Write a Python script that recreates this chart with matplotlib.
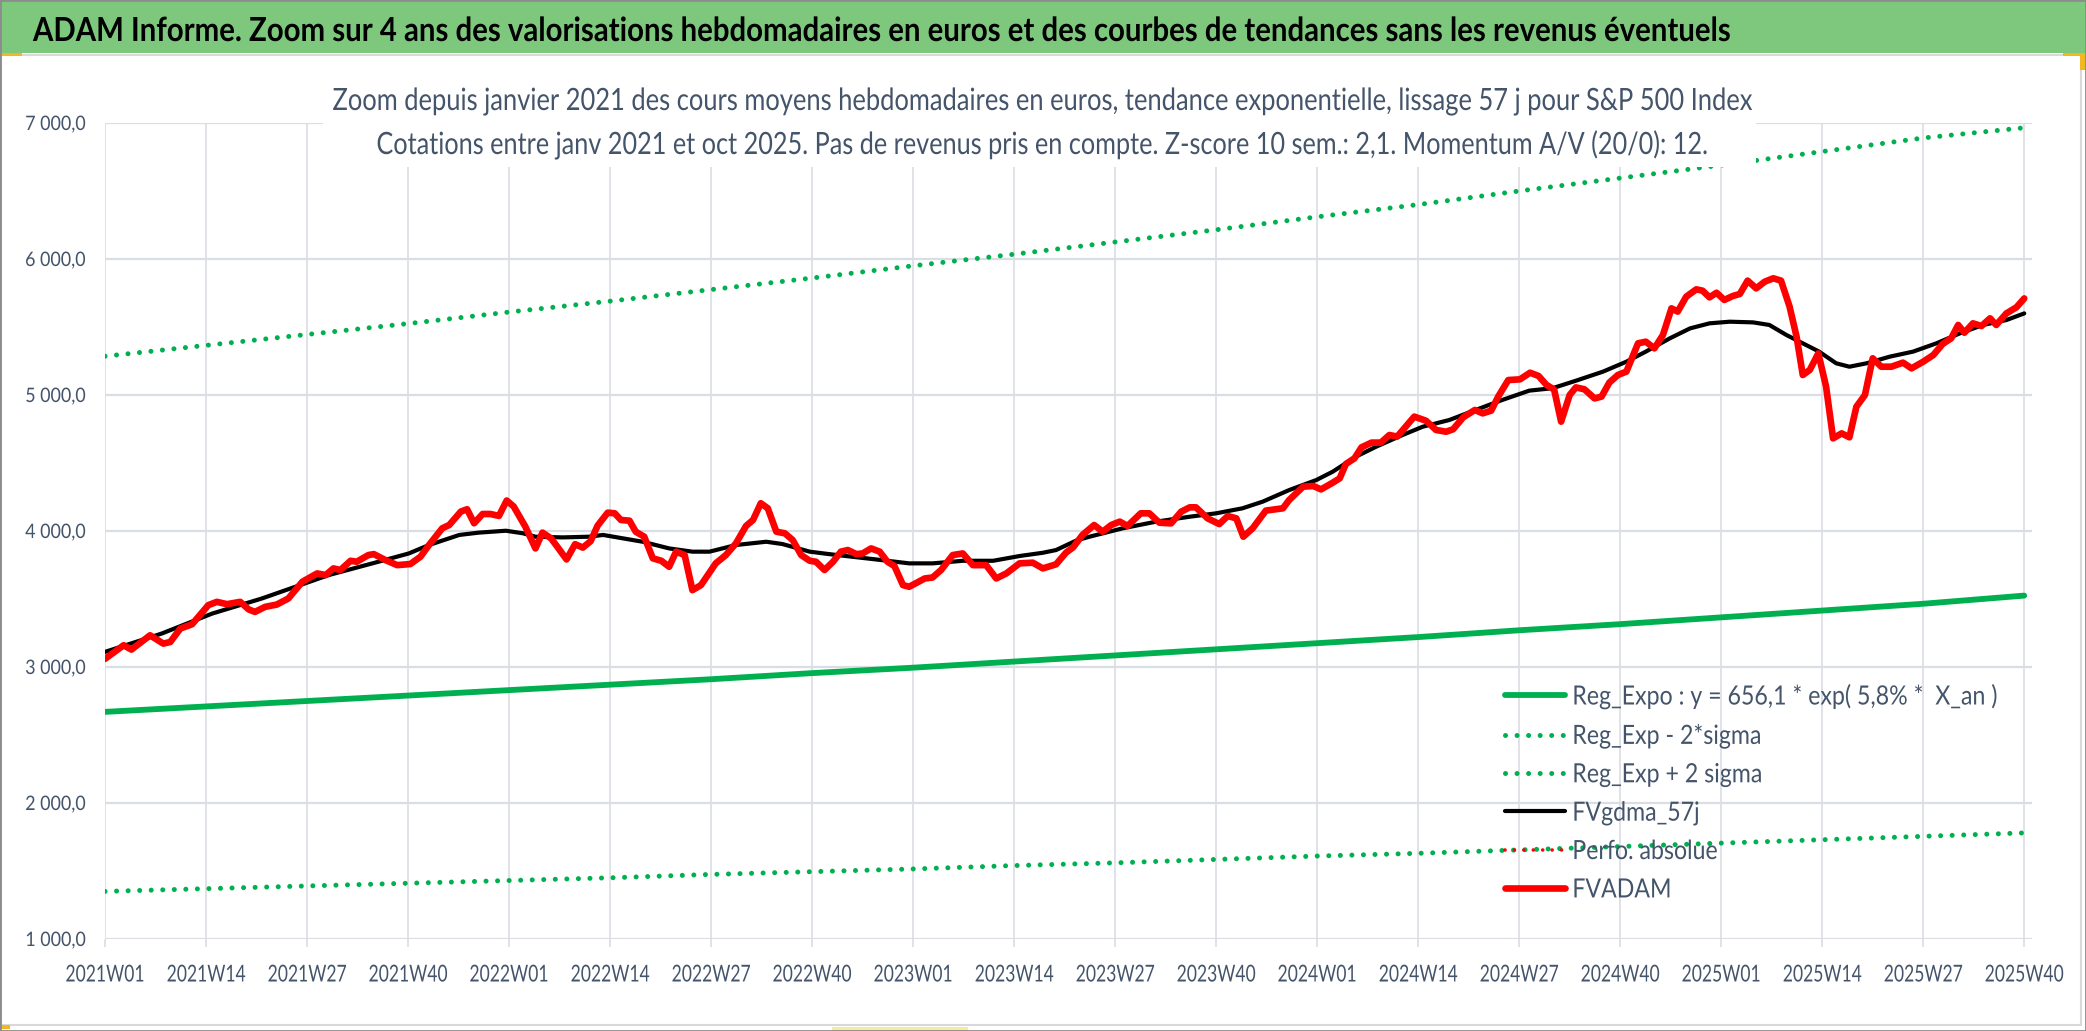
import matplotlib
matplotlib.use('Agg')
import matplotlib.pyplot as plt
from matplotlib.font_manager import FontProperties
from matplotlib.patches import Rectangle
from matplotlib.patheffects import AbstractPathEffect
from matplotlib.textpath import TextPath
from matplotlib.transforms import Affine2D

# ---------------- data ----------------
x_labels = ['2021W01', '2021W14', '2021W27', '2021W40', '2022W01', '2022W14', '2022W27',
            '2022W40', '2023W01', '2023W14', '2023W27', '2023W40', '2024W01', '2024W14',
            '2024W27', '2024W40', '2025W01', '2025W14', '2025W27', '2025W40']
x_label_week = [0, 13, 26, 39, 52, 65, 78, 91, 104, 117, 130, 143, 156, 169, 182, 195,
                208, 221, 234, 247]
y_ticks = [1000, 2000, 3000, 4000, 5000, 6000, 7000]
y_labels = ['1 000,0', '2 000,0', '3 000,0', '4 000,0', '5 000,0', '6 000,0', '7 000,0']

series_names = ['Reg_Expo : y = 656,1 * exp( 5,8% *  X_an )', 'Reg_Exp - 2*sigma',
                'Reg_Exp + 2 sigma', 'FVgdma_57j', 'Perfo. absolue', 'FVADAM']

# trend curves read at each labelled week
trend_week = x_label_week
reg_expo = [2670, 2710, 2750, 2790, 2830, 2870, 2910, 2955, 2995, 3040, 3085, 3130, 3175,
            3220, 3270, 3315, 3365, 3415, 3465, 3525]
reg_minus = [1350, 1370, 1390, 1410, 1430, 1450, 1475, 1495, 1515, 1540, 1560, 1585, 1610,
             1630, 1655, 1680, 1705, 1730, 1755, 1780]
reg_plus = [5285, 5365, 5445, 5525, 5610, 5690, 5775, 5860, 5950, 6035, 6125, 6215, 6310,
            6400, 6500, 6595, 6690, 6790, 6890, 6965]

# FVgdma_57j (smoothed)
black_week = [0, 7.3, 13.8, 20.2, 24.5, 28.8, 35.2, 39.1, 41.7, 45.6, 48.1, 51.6, 53.8, 55.4,
              58.9, 62.3, 64.1, 69.2, 72.6, 75.6, 77.8, 81.2, 85.1, 87.2, 90.7, 93.2, 99.2,
              103.5, 106.5, 110.4, 114.3, 117.7, 120.7, 122.4, 125.0, 126.7, 131.0, 135.3,
              139.6, 143.0, 146.4, 149.0, 152.4, 155.9, 158.0, 161.0, 163.6, 167.0, 169.6,
              173.0, 176.4, 179.8, 183.3, 186.3, 189.3, 192.8, 195.8, 198.3, 201.4, 204.0,
              206.5, 209.1, 212.1, 214.2, 216.4, 218.5, 220.6, 222.8, 224.5, 226.7, 229.7,
              232.7, 235.7, 238.7, 241.7, 244.7, 247.0]
black_value = [3111, 3246, 3393, 3504, 3590, 3676, 3774, 3835, 3897, 3971, 3988, 4002, 3983,
               3958, 3953, 3958, 3971, 3921, 3872, 3848, 3848, 3897, 3921, 3904, 3848, 3830,
               3791, 3762, 3762, 3781, 3781, 3816, 3840, 3860, 3930, 3958, 4020, 4069, 4105,
               4130, 4167, 4216, 4301, 4375, 4436, 4547, 4620, 4706, 4767, 4816, 4890, 4963,
               5032, 5050, 5105, 5172, 5245, 5319, 5417, 5490, 5527, 5539, 5534, 5515, 5441,
               5380, 5319, 5233, 5208, 5233, 5282, 5319, 5380, 5453, 5515, 5551, 5600]

# FVADAM (weekly valuation)
red_week = [0.0, 2.4, 3.4, 5.8, 7.5, 8.4, 9.7, 11.2, 13.3, 14.4, 15.7, 17.4, 18.5, 19.3, 20.6,
            22.1, 23.6, 25.4, 27.3, 28.4, 29.4, 30.3, 31.6, 32.4, 33.9, 34.6, 36.1, 37.6,
            39.3, 40.6, 41.7, 43.4, 44.3, 45.8, 46.6, 47.5, 48.6, 49.6, 50.7, 51.7, 52.6,
            54.1, 55.4, 56.3, 57.4, 58.2, 59.4, 60.5, 61.5, 62.5, 63.4, 64.7, 65.6, 66.4,
            67.5, 68.3, 69.4, 70.5, 71.6, 72.6, 73.5, 74.6, 75.6, 76.7, 78.6, 79.9, 81.2,
            82.5, 83.4, 84.4, 85.3, 86.4, 87.5, 88.5, 89.6, 90.7, 91.5, 92.6, 93.7, 94.7,
            95.6, 96.7, 97.5, 98.6, 99.7, 100.7, 101.6, 102.7, 103.5, 105.5, 106.5, 107.6,
            109.1, 110.4, 111.7, 113.4, 114.7, 116.0, 117.7, 119.4, 120.7, 122.4, 123.7,
            124.6, 125.8, 127.3, 128.4, 129.5, 130.6, 131.6, 133.3, 134.4, 135.7, 137.2,
            138.5, 139.6, 140.4, 141.9, 143.4, 144.5, 145.6, 146.5, 147.7, 149.4, 151.6,
            152.4, 154.2, 155.5, 156.5, 158.0, 158.9, 159.7, 160.8, 161.7, 163.0, 164.2,
            165.3, 166.3, 168.5, 170.0, 171.3, 172.6, 173.5, 174.8, 176.3, 177.3, 178.4,
            179.3, 180.6, 182.1, 183.4, 184.5, 185.5, 186.5, 187.4, 188.5, 189.3, 190.4,
            191.7, 192.6, 193.6, 194.7, 195.8, 197.3, 198.3, 199.4, 200.5, 201.6, 202.4,
            203.5, 204.8, 205.6, 206.5, 207.4, 208.4, 209.5, 210.4, 211.4, 212.5, 213.6,
            214.7, 215.7, 216.8, 217.7, 218.5, 219.4, 220.5, 221.5, 222.4, 223.5, 224.5,
            225.4, 226.5, 227.5, 228.6, 229.9, 231.4, 232.5, 234.0, 235.3, 236.5, 237.6,
            238.5, 239.3, 240.4, 241.5, 242.6, 243.4, 244.7, 246.0, 247.0]
red_value = [3060, 3160, 3128, 3233, 3172, 3184, 3283, 3314, 3455, 3479, 3462, 3479, 3423,
             3405, 3442, 3459, 3504, 3627, 3688, 3676, 3725, 3713, 3781, 3774, 3823, 3830,
             3786, 3749, 3757, 3811, 3897, 4020, 4044, 4143, 4160, 4057, 4125, 4125, 4111,
             4224, 4180, 4032, 3872, 3988, 3946, 3885, 3791, 3903, 3878, 3925, 4040, 4135,
             4130, 4081, 4076, 3995, 3958, 3799, 3781, 3737, 3848, 3823, 3565, 3602, 3762,
             3823, 3909, 4037, 4081, 4204, 4167, 3995, 3983, 3934, 3823, 3781, 3774, 3713,
             3774, 3848, 3860, 3830, 3835, 3872, 3848, 3774, 3742, 3602, 3590, 3651, 3658,
             3713, 3823, 3835, 3749, 3749, 3651, 3688, 3762, 3767, 3725, 3755, 3842, 3880,
             3971, 4044, 3995, 4044, 4069, 4037, 4130, 4130, 4061, 4056, 4142, 4174, 4174,
             4093, 4051, 4110, 4093, 3958, 4020, 4150, 4167, 4228, 4326, 4331, 4306, 4355,
             4387, 4493, 4534, 4615, 4650, 4650, 4706, 4694, 4841, 4811, 4743, 4730, 4748,
             4836, 4890, 4865, 4885, 4988, 5110, 5115, 5164, 5140, 5075, 5040, 4804, 5000,
             5056, 5042, 4975, 4988, 5091, 5147, 5172, 5380, 5392, 5343, 5441, 5637, 5613,
             5723, 5777, 5767, 5718, 5752, 5699, 5728, 5743, 5841, 5784, 5833, 5858, 5841,
             5650, 5429, 5147, 5184, 5306, 5061, 4681, 4718, 4689, 4914, 5000, 5270, 5208,
             5208, 5238, 5196, 5245, 5294, 5375, 5417, 5515, 5458, 5527, 5507, 5564, 5515,
             5600, 5645, 5710]

title = ("ADAM Informe. Zoom sur 4 ans des valorisations hebdomadaires en euros et des "
         "courbes de tendances sans les revenus éventuels")
subtitle1 = ("Zoom depuis janvier 2021 des cours moyens hebdomadaires en euros, tendance "
             "exponentielle, lissage 57 j pour S&P 500 Index")
subtitle2 = ("Cotations entre janv 2021 et oct 2025. Pas de revenus pris en compte. "
             "Z-score 10 sem.: 2,1. Momentum A/V (20/0): 12.")

# ---------------- fonts ----------------
FAMILY = ['Lato', 'DejaVu Sans']
plt.rcParams['font.family'] = FAMILY


def fp(size, bold=False):
    return FontProperties(family=FAMILY, weight='bold' if bold else 'normal', size=size)


class Condense(AbstractPathEffect):
    """Draw the glyphs horizontally narrowed (Calibri-like condensed look)."""

    def __init__(self, sx, frac):
        super().__init__()
        self.sx = sx
        self.frac = frac

    def draw_path(self, renderer, gc, tpath, affine, rgbFace=None):
        ext = tpath.get_extents()
        xa = ext.x0 + self.frac * (ext.x1 - ext.x0)
        t = Affine2D().translate(-xa, 0).scale(self.sx, 1).translate(xa, 0) + affine
        renderer.draw_path(gc, tpath, t, rgbFace)


# ---------------- style ----------------
W, H, DPI = 2086, 1031, 100
GREEN = '#00B050'
GRID = '#DADDE4'
TXT = '#44546A'
PT = 72.0 / DPI  # points per pixel

fig = plt.figure(figsize=(W / DPI, H / DPI), dpi=DPI, facecolor='white')
renderer = fig.canvas.get_renderer()


def fx(px):
    return px / W


def fy(py):
    return 1 - py / H


def fit(s, cap_px, width_px, bold=False):
    p = fp(100, bold)
    cap = TextPath((0, 0), 'H', size=100, prop=p).get_extents().height / 100
    wem = TextPath((0, 0), s, size=100, prop=p).get_extents().width / 100
    fs_px = cap_px / cap
    return fs_px * PT, width_px / (wem * fs_px), cap * fs_px


# background decorations
fig.add_artist(Rectangle((0, fy(53)), 1, 53 / H, transform=fig.transFigure,
                         facecolor='#7EC87E', edgecolor='none', zorder=1))
fig.add_artist(Rectangle((fx(1), fy(1025)), fx(2080), (1025 - 55) / H, transform=fig.transFigure,
                         facecolor='none', edgecolor='#D9D9D9', lw=1.5, zorder=1))
fig.add_artist(Rectangle((0, 0), 1, 1, transform=fig.transFigure, facecolor='none',
                         edgecolor='#8C8C8C', lw=2, zorder=5))
for (x0, y0, w, h, c) in [(0, 53, 22, 3, '#F2B824'), (2063, 53, 23, 3, '#F2B824'),
                          (2080, 53, 6, 17, '#F2B824'), (0, 1025, 10, 4, '#F2B824'),
                          (832, 1027, 136, 4, '#F7EB9B')]:
    fig.add_artist(Rectangle((fx(x0), fy(y0 + h)), fx(w), h / H, transform=fig.transFigure,
                             facecolor=c, edgecolor='none', zorder=4))

# axes
ax = fig.add_axes([fx(105), fy(939), fx(2032 - 105), (939 - 123) / H])
ax.set_facecolor('white')
for s in ax.spines.values():
    s.set_visible(False)
ax.set_xlim(0, 248)
ax.set_ylim(1000, 7000)
ax.set_xticks(x_label_week)
ax.set_yticks(y_ticks)

xs, xsx, _ = fit('2021W01', 16.7, 77)
ys, ysx, _ = fit('7 000,0', 14.3, 59)
ax.set_xticklabels(x_labels, fontproperties=fp(xs), color=TXT, va='center_baseline',
                   path_effects=[Condense(xsx, 0.5)])
ax.set_yticklabels(y_labels, fontproperties=fp(ys), color=TXT,
                   path_effects=[Condense(ysx, 1.0)])
ax.tick_params(axis='x', length=8 * PT, width=1.2, color=GRID, pad=26 * PT)
ax.tick_params(axis='y', length=0, pad=19 * PT)
ax.yaxis.grid(True, color=GRID, lw=1.6)
ax.xaxis.grid(True, color=GRID, lw=1.2)
ax.set_axisbelow(True)

dot = (0, (0.01, 2.3))
ax.plot(trend_week, reg_expo, color=GREEN, lw=4.2, solid_capstyle='round', zorder=2,
        label=series_names[0])
ax.plot(trend_week, reg_minus, color=GREEN, lw=3.6, linestyle=dot, dash_capstyle='round',
        zorder=2, label=series_names[1])
ax.plot(trend_week, reg_plus, color=GREEN, lw=3.6, linestyle=dot, dash_capstyle='round',
        zorder=2, label=series_names[2])
ax.plot(black_week, black_value, color='black', lw=3.0, solid_joinstyle='round',
        solid_capstyle='round', zorder=3, label=series_names[3])
ax.plot([], [], color='#FF0000', lw=2.6, linestyle=(0, (0.01, 2.6)), dash_capstyle='round',
        label=series_names[4])
ax.plot(red_week, red_value, color='#FF0000', lw=4.8, solid_joinstyle='round',
        solid_capstyle='round', zorder=4, label=series_names[5])

# legend
ls, lsx, lcap = fit(series_names[0], 19, 422)
lfp = fp(ls)
_, lh, ld = renderer.get_text_width_height_descent(series_names[0], lfp, ismath=False)
lpx = ls / PT
leg_top = 695 - (lh - ld) + lcap / 2
leg = ax.legend(loc='upper left', bbox_to_anchor=(fx(1505), fy(leg_top)),
                bbox_transform=fig.transFigure, frameon=False, prop=lfp,
                borderpad=0, borderaxespad=0, handlelength=60 / lpx,
                handletextpad=7 / lpx, labelspacing=max(0.0, (39.5 - lh) / lpx),
                labelcolor=TXT)
for t in leg.get_texts():
    t.set_path_effects([Condense(lsx, 0.0)])
leg.set_zorder(6)

# title box covering the top gridline
fig.add_artist(Rectangle((fx(323), fy(167)), fx(1756 - 323), (167 - 60) / H,
                         transform=fig.transFigure, facecolor='white', edgecolor='none',
                         zorder=2))

# texts
ts, tsx, _ = fit(title, 24, 1697, True)
fig.text(fx(33), fy(41), title, fontproperties=fp(ts, True), color='black', ha='left',
         va='baseline', zorder=6, path_effects=[Condense(tsx, 0.0)])
s1, s1x, _ = fit(subtitle1, 22, 1419)
fig.text(fx(1040), fy(110), subtitle1, fontproperties=fp(s1), color=TXT, ha='center',
         va='baseline', zorder=6, path_effects=[Condense(s1x, 0.5)])
s2, s2x, _ = fit(subtitle2, 22, 1329)
fig.text(fx(1040), fy(154), subtitle2, fontproperties=fp(s2), color=TXT, ha='center',
         va='baseline', zorder=6, path_effects=[Condense(s2x, 0.5)])

fig.savefig('out.png', dpi=DPI, facecolor='white')
